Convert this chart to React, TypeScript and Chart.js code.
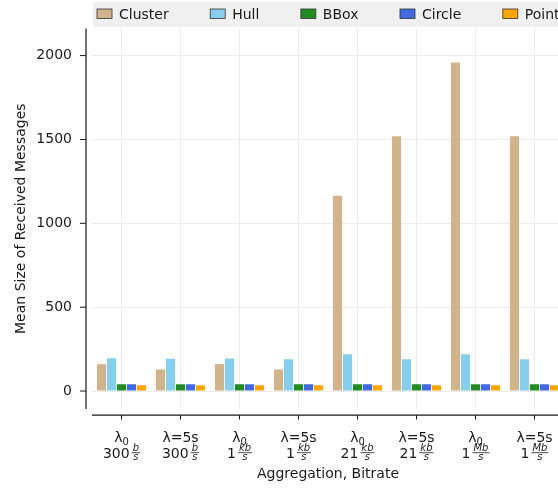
import React, { useEffect, useRef } from "react";
import { Chart, registerables } from "chart.js";

Chart.register(...registerables);

// ---- data ----
const aggregation = ["λ0", "λ=5s", "λ0", "λ=5s", "λ0", "λ=5s", "λ0", "λ=5s"];
const bitrateValue = ["300", "300", "1", "1", "21", "21", "1", "1"];
const bitrateUnit = ["b", "b", "kb", "kb", "kb", "kb", "Mb", "Mb"];
const categories = aggregation.map((a, i) => `${a} ${bitrateValue[i]} ${bitrateUnit[i]}/s`);

const seriesNames = ["Cluster", "Hull", "BBox", "Circle", "Point"];
const seriesColors = ["#d2b48c", "#87ceeb", "#228b22", "#4169e1", "#ffa500"];
const cluster = [160, 129, 162, 128, 1164, 1519, 1958, 1519];
const hull = [196, 192, 194, 190, 220, 190, 220, 190];
const bbox = [40, 40, 40, 40, 40, 40, 40, 40];
const circle = [41, 41, 41, 41, 41, 41, 41, 41];
const point = [34, 34, 34, 34, 34, 34, 34, 34];
const seriesData = [cluster, hull, bbox, circle, point];

const yTicks = [0, 500, 1000, 1500, 2000];
const yTickLabels = ["0", "500", "1000", "1500", "2000"];
const yMin = -107;
const yMax = 2162;

const INK = "#1a1a1a";
const GRID = "#ececec";
const FONT = "'DejaVu Sans', sans-serif";

const legendPlugin = {
  id: "mplLegend",
  afterDraw(chart: any) {
    const ctx = chart.ctx as CanvasRenderingContext2D;
    ctx.save();
    ctx.fillStyle = "#f0f0f0";
    ctx.beginPath();
    const lx = 93, ly = 2, lw = 500, lh = 25, r = 3;
    ctx.moveTo(lx + r, ly);
    ctx.lineTo(lx + lw, ly);
    ctx.lineTo(lx + lw, ly + lh);
    ctx.lineTo(lx + r, ly + lh);
    ctx.arcTo(lx, ly + lh, lx, ly + lh - r, r);
    ctx.lineTo(lx, ly + r);
    ctx.arcTo(lx, ly, lx + r, ly, r);
    ctx.closePath();
    ctx.fill();
    ctx.font = `14px ${FONT}`;
    ctx.textBaseline = "alphabetic";
    let x = 97;
    seriesNames.forEach((name, k) => {
      ctx.fillStyle = seriesColors[k];
      ctx.fillRect(x, 9, 15, 9.5);
      ctx.strokeStyle = "#333333";
      ctx.lineWidth = 0.8;
      ctx.strokeRect(x, 9, 15, 9.5);
      ctx.fillStyle = INK;
      ctx.fillText(name, x + 22, 18.5);
      x += 22 + ctx.measureText(name).width + 41.5;
    });
    ctx.restore();
  },
};

const axesPlugin = {
  id: "mplAxes",
  afterDraw(chart: any) {
    const ctx = chart.ctx as CanvasRenderingContext2D;
    const { left, right, top, bottom } = chart.chartArea;
    const xs = chart.scales.x;
    const ys = chart.scales.y;
    const spineX = left - 6;
    const spineY = bottom + 6;
    ctx.save();
    ctx.strokeStyle = INK;
    ctx.lineWidth = 1.25;
    ctx.beginPath();
    ctx.moveTo(spineX, top);
    ctx.lineTo(spineX, bottom);
    ctx.stroke();
    ctx.beginPath();
    ctx.moveTo(left, spineY);
    ctx.lineTo(right, spineY);
    ctx.stroke();
    ctx.lineWidth = 1;
    yTicks.forEach((v) => {
      const py = ys.getPixelForValue(v);
      ctx.beginPath();
      ctx.moveTo(spineX - 6, py);
      ctx.lineTo(spineX, py);
      ctx.stroke();
    });
    categories.forEach((_, i) => {
      const px = xs.getPixelForValue(i);
      ctx.beginPath();
      ctx.moveTo(px, spineY);
      ctx.lineTo(px, spineY + 4.5);
      ctx.stroke();
    });

    // tick labels (two lines with math-like subscripts and fractions)
    ctx.fillStyle = INK;
    ctx.textBaseline = "alphabetic";
    ctx.textAlign = "left";
    categories.forEach((_, i) => {
      const px = xs.getPixelForValue(i);
      const agg = aggregation[i];
      if (agg === "λ0") {
        ctx.font = `14px ${FONT}`;
        const wl = ctx.measureText("λ").width;
        ctx.font = `10px ${FONT}`;
        const w0 = ctx.measureText("0").width;
        const start = px - (wl + w0) / 2;
        ctx.font = `14px ${FONT}`;
        ctx.fillText("λ", start, 442);
        ctx.font = `10px ${FONT}`;
        ctx.fillText("0", start + wl, 444.5);
      } else {
        ctx.font = `14px ${FONT}`;
        const w = ctx.measureText(agg).width;
        ctx.fillText(agg, px - w / 2, 442);
      }
      const num = bitrateValue[i];
      const unit = bitrateUnit[i];
      ctx.font = `14px ${FONT}`;
      const wNum = ctx.measureText(num).width;
      ctx.font = `italic 10px ${FONT}`;
      const wu = ctx.measureText(unit).width;
      const ws = ctx.measureText("s").width;
      const fw = Math.max(wu, ws) + 2;
      const gap = 2;
      const total = wNum + gap + fw;
      const start = px - total / 2;
      ctx.font = `14px ${FONT}`;
      ctx.fillText(num, start, 458);
      const cx = start + wNum + gap + fw / 2;
      ctx.font = `italic 10px ${FONT}`;
      ctx.fillText(unit, cx - wu / 2, 451);
      ctx.fillText("s", cx - ws / 2, 459.5);
      ctx.lineWidth = 0.8;
      ctx.beginPath();
      ctx.moveTo(cx - fw / 2, 452.7);
      ctx.lineTo(cx + fw / 2, 452.7);
      ctx.stroke();
    });
    ctx.restore();
  },
};

export default function App() {
  const ref = useRef<HTMLCanvasElement>(null);
  useEffect(() => {
    if (!ref.current) return;
    Chart.defaults.font.family = FONT;
    const chart = new Chart(ref.current, {
      type: "bar",
      data: {
        labels: categories,
        datasets: seriesNames.map((name, k) => ({
          label: name,
          data: seriesData[k],
          backgroundColor: seriesColors[k],
          borderWidth: 0,
          barPercentage: 0.92,
          categoryPercentage: 0.847,
        })),
      },
      options: {
        responsive: false,
        animation: false,
        layout: { padding: { top: 27, right: 2, left: 0, bottom: 0 } },
        plugins: { legend: { display: false }, tooltip: { enabled: false } },
        scales: {
          x: {
            type: "category",
            offset: true,
            grid: { offset: false, color: GRID, drawTicks: false, lineWidth: 1 },
            border: { display: false },
            ticks: { display: false },
            title: {
              display: true,
              text: "Aggregation, Bitrate",
              color: INK,
              font: { size: 14, family: FONT },
              padding: { top: 0, bottom: 5 },
            },
            afterFit: (s: any) => {
              s.height = 79;
            },
          },
          y: {
            min: yMin,
            max: yMax,
            afterBuildTicks: (s: any) => {
              s.ticks = yTicks.map((v) => ({ value: v }));
            },
            grid: { color: GRID, drawTicks: false, lineWidth: 1 },
            border: { display: false },
            ticks: {
              color: INK,
              font: { size: 14, family: FONT },
              padding: 20,
              callback: (v: any) => {
                const idx = yTicks.indexOf(Number(v));
                return idx >= 0 ? yTickLabels[idx] : String(v);
              },
            },
            title: {
              display: true,
              text: "Mean Size of Received Messages",
              color: INK,
              font: { size: 14, family: FONT },
              padding: { top: 13, bottom: 0 },
            },
            afterFit: (s: any) => {
              s.width = 92;
            },
          },
        },
      } as any,
      plugins: [legendPlugin, axesPlugin],
    });
    return () => chart.destroy();
  }, []);
  return (
    <div
      style={{
        position: "fixed",
        left: 0,
        top: 0,
        width: 558,
        height: 488,
        overflow: "hidden",
        background: "#fff",
      }}
    >
      <canvas ref={ref} width={566} height={488} style={{ display: "block", width: 566, height: 488 }} />
    </div>
  );
}
